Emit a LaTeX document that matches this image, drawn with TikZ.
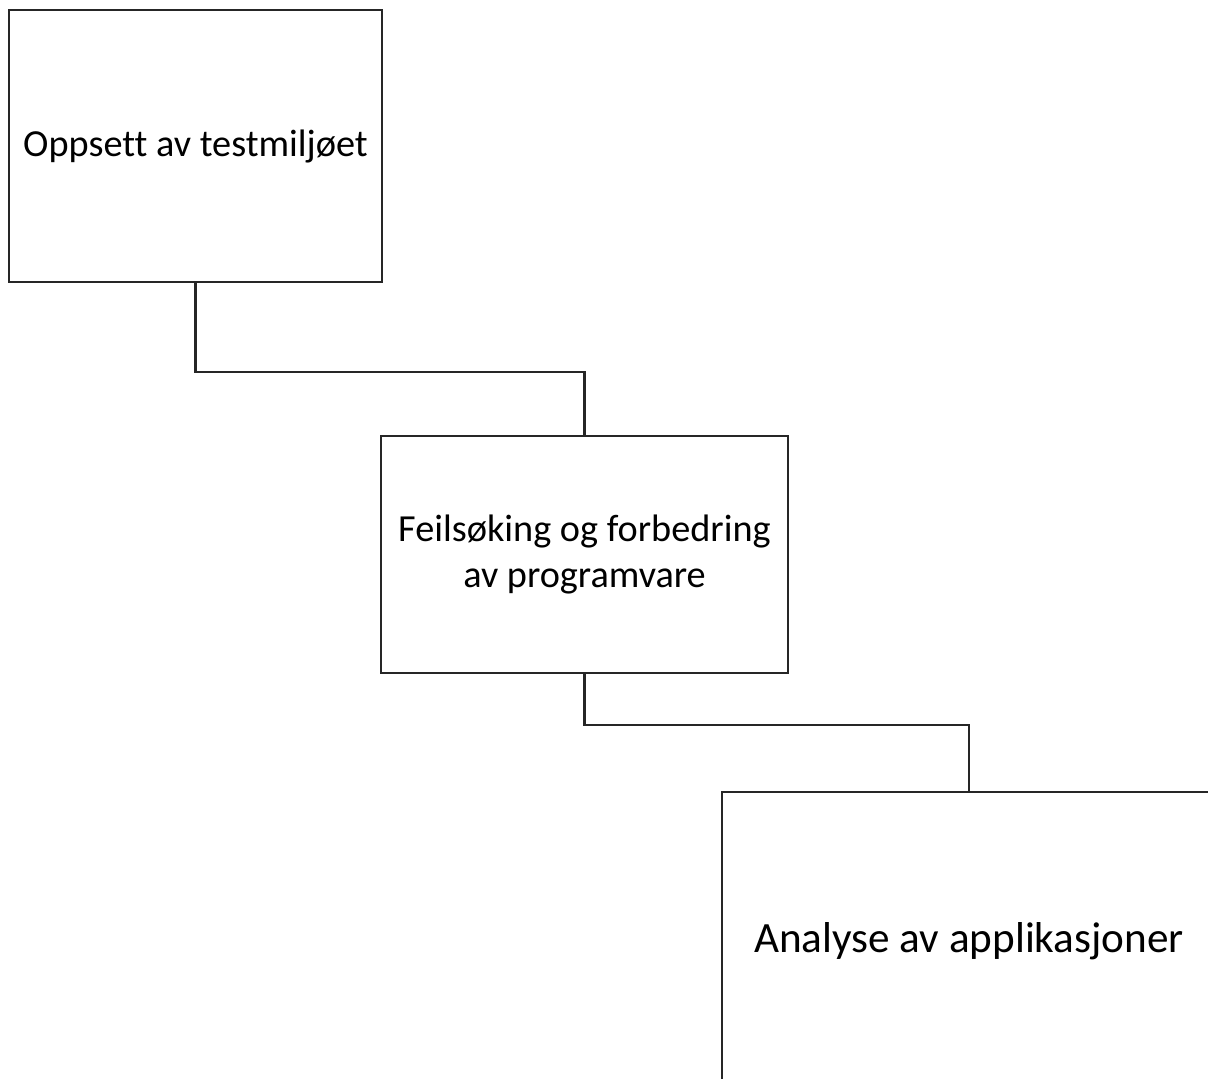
\documentclass[tikz,border=0pt]{standalone}
\usepackage{fontspec}
\setmainfont{Carlito}[Ligatures=NoCommon]
\usetikzlibrary{positioning}

\begin{document}
\begin{tikzpicture}[x=0.75pt,y=-0.75pt,
	blk/.style={draw=black!85,line width=1.6pt,align=center,inner sep=0pt,font=\fontsize{28.7}{35}\selectfont},
	lnk/.style={draw=black!85,line width=1.6pt}]
				\useasboundingbox (0,0) rectangle (1208,1079);
				\clip (0,0) rectangle (1208,1079);
				\node[blk,minimum width=279.75pt,minimum height=204pt] (s1) at (195.5,146) {Oppsett av testmiljøet};
				\node[blk,minimum width=305.25pt,minimum height=177.75pt] (s2) at (584.5,554.5) {Feilsøking og forbedring\\av programvare};
				\node[blk,minimum width=370.5pt,minimum height=223.5pt,font=\fontsize{32.4}{38}\selectfont] (s3) at (969,941) {Analyse av applikasjoner};
				
				\draw[lnk] (s1.south) -- ++(0,89) -| (s2.north);
				\draw[lnk] (s2.south) -- ++(0,51) -| (s3.north);
\end{tikzpicture}
\end{document}
